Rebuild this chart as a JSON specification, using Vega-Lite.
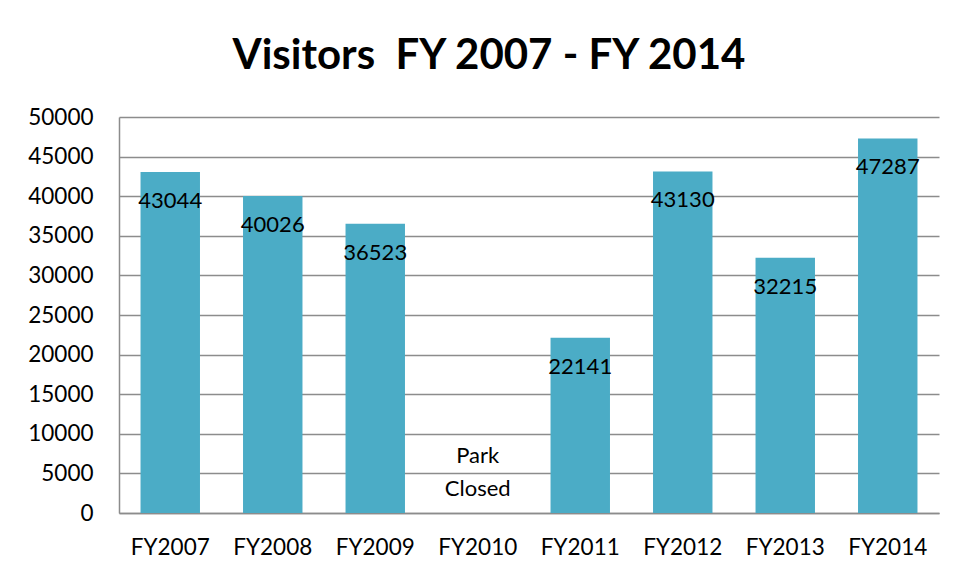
{
  "$schema": "https://vega.github.io/schema/vega-lite/v6.json",
  "width": 820,
  "height": 396,
  "autosize": "none",
  "padding": {"left": 119, "top": 117, "right": 19, "bottom": 66},
  "background": "white",
  "title": {
    "text": "Visitors\u00a0\u00a0FY 2007 - FY 2014",
    "font": "Lato",
    "fontSize": 42,
    "fontWeight": "bold",
    "color": "#000000",
    "anchor": "middle",
    "baseline": "alphabetic",
    "offset": -5,
    "dx": -40
  },
  "config": {
    "view": {"stroke": null},
    "font": "Lato"
  },
  "data": {
    "values": [
      {"year": "FY2007", "visitors": 43044, "label": "43044"},
      {"year": "FY2008", "visitors": 40026, "label": "40026"},
      {"year": "FY2009", "visitors": 36523, "label": "36523"},
      {"year": "FY2010", "visitors": 0, "label": "Park\nClosed"},
      {"year": "FY2011", "visitors": 22141, "label": "22141"},
      {"year": "FY2012", "visitors": 43130, "label": "43130"},
      {"year": "FY2013", "visitors": 32215, "label": "32215"},
      {"year": "FY2014", "visitors": 47287, "label": "47287"}
    ]
  },
  "encoding": {
    "x": {
      "field": "year",
      "type": "nominal",
      "sort": null,
      "title": null,
      "scale": {"paddingInner": 0.42, "paddingOuter": 0.21},
      "axis": {
        "labelAngle": 0,
        "labelFont": "Lato",
        "labelFontSize": 22.5,
        "labelColor": "#000000",
        "labelPadding": 23,
        "ticks": false,
        "domain": true,
        "domainColor": "#8c8c8c",
        "domainWidth": 1.5,
        "grid": false
      }
    },
    "y": {
      "field": "visitors",
      "type": "quantitative",
      "title": null,
      "scale": {"domain": [0, 50000], "nice": false},
      "axis": {
        "values": [0, 5000, 10000, 15000, 20000, 25000, 30000, 35000, 40000, 45000, 50000],
        "format": "d",
        "labelFont": "Lato",
        "labelFontSize": 22.5,
        "labelColor": "#000000",
        "labelPadding": 26,
        "ticks": false,
        "domain": true,
        "domainColor": "#8c8c8c",
        "domainWidth": 1.5,
        "grid": true,
        "gridColor": "#8c8c8c",
        "gridWidth": 1.5
      }
    }
  },
  "layer": [
    {
      "mark": {"type": "bar", "color": "#4BACC6"}
    },
    {
      "transform": [{"filter": "datum.visitors > 0"}],
      "mark": {"type": "text", "baseline": "middle", "dy": 29, "fontSize": 22, "font": "Lato", "color": "#000000"},
      "encoding": {"text": {"field": "label"}}
    },
    {
      "transform": [{"filter": "datum.visitors == 0"}],
      "mark": {"type": "text", "baseline": "bottom", "dy": -45, "fontSize": 22, "font": "Lato", "color": "#000000", "lineBreak": "\n", "lineHeight": 33},
      "encoding": {"text": {"field": "label"}}
    }
  ]
}
